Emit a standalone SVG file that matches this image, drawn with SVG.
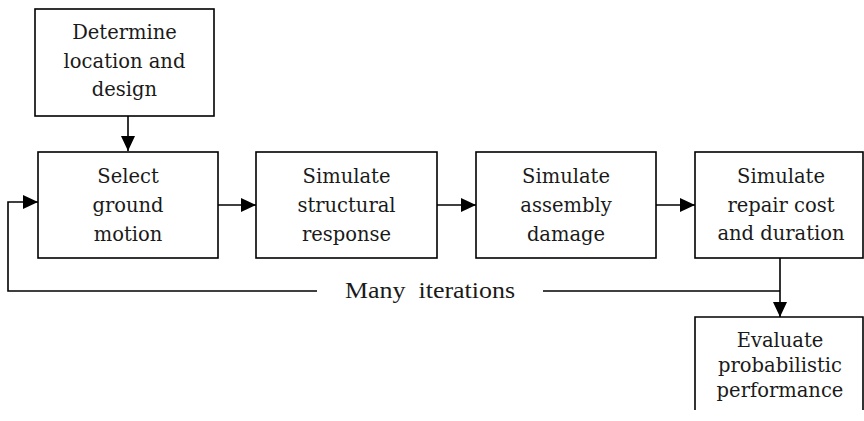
<svg xmlns="http://www.w3.org/2000/svg" width="864" height="421" viewBox="0 0 864 421">
<style>
.box{fill:#fff;stroke:#000;stroke-width:1.6}
.ln{fill:none;stroke:#000;stroke-width:1.6}
.t{font-family:"DejaVu Serif","Liberation Serif",serif;font-size:19.5px;fill:#1a1a1a;text-anchor:middle}
.lbl{font-family:"Liberation Serif",serif;font-size:24px;fill:#1a1a1a}
</style>
<defs>
<marker id="ah" markerWidth="15" markerHeight="14" refX="15" refY="7" orient="auto" markerUnits="userSpaceOnUse">
<path d="M0,0 L15,7 L0,14 Z" fill="#000"/>
</marker>
</defs>
<rect width="864" height="421" fill="#fff"/>
<g id="connectors">
<line class="ln" x1="128" y1="116" x2="128" y2="151" marker-end="url(#ah)"/>
<line class="ln" x1="218" y1="205" x2="256" y2="205" marker-end="url(#ah)"/>
<line class="ln" x1="437" y1="205" x2="476" y2="205" marker-end="url(#ah)"/>
<line class="ln" x1="656" y1="205" x2="695" y2="205" marker-end="url(#ah)"/>
<line class="ln" x1="780" y1="258" x2="780" y2="317" marker-end="url(#ah)"/>
<polyline class="ln" points="317,291 8,291 8,202 38,202" marker-end="url(#ah)"/>
<line class="ln" x1="543" y1="291" x2="780" y2="291"/>
<text class="lbl" x="345" y="298" textLength="170" lengthAdjust="spacingAndGlyphs" xml:space="preserve">Many  iterations</text>
</g>
<g id="determine">
<rect class="box" x="35" y="9" width="179" height="107"/>
<text class="t" x="124.5" y="39">Determine</text>
<text class="t" x="124.5" y="68">location and</text>
<text class="t" x="124.5" y="96">design</text>
</g>
<g id="select">
<rect class="box" x="38" y="152" width="180" height="106"/>
<text class="t" x="128" y="183">Select</text>
<text class="t" x="128" y="212">ground</text>
<text class="t" x="128" y="241">motion</text>
</g>
<g id="structural">
<rect class="box" x="256" y="152" width="181" height="106"/>
<text class="t" x="346.5" y="183">Simulate</text>
<text class="t" x="346.5" y="212">structural</text>
<text class="t" x="346.5" y="241">response</text>
</g>
<g id="damage">
<rect class="box" x="476" y="152" width="180" height="106"/>
<text class="t" x="566" y="183">Simulate</text>
<text class="t" x="566" y="212">assembly</text>
<text class="t" x="566" y="241">damage</text>
</g>
<g id="repair">
<rect class="box" x="695" y="152" width="168" height="106"/>
<text class="t" x="781" y="183">Simulate</text>
<text class="t" x="781" y="212">repair cost</text>
<text class="t" x="781" y="240">and duration</text>
</g>
<g id="evaluate">
<path class="ln" d="M695,410 L695,317 L863,317 L863,410"/>
<text class="t" x="780" y="347">Evaluate</text>
<text class="t" x="780" y="372">probabilistic</text>
<text class="t" x="780" y="397">performance</text>
</g>
</svg>
